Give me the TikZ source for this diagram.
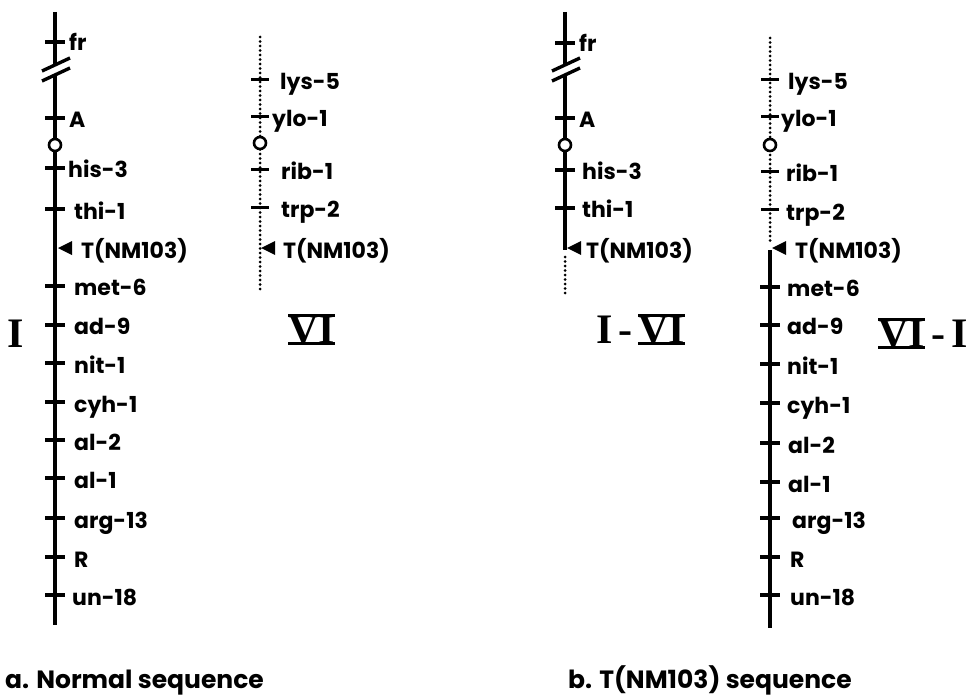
\documentclass[tikz,border=0pt]{standalone}
\usepackage{fontspec}
\setmainfont{Poppins}
\newfontfamily\romfont{Liberation Serif}
\begin{document}
\begin{tikzpicture}[x=1pt,y=-1pt,
  chrom/.style={line width=4.6pt},
  dotmark/.style={fill=black},
  tickmark/.style={line width=3.4pt},
  dtickmark/.style={line width=3pt},
  lab/.style={anchor=base west,inner sep=0pt,font=\bfseries\fontsize{22}{22}\selectfont},
  captext/.style={anchor=base west,inner sep=0pt,font=\bfseries\fontsize{25}{25}\selectfont},
  rom/.style={inner sep=0pt,anchor=base west,font=\romfont\bfseries\fontsize{42}{42}\selectfont},
  bar/.style={line width=3.2pt},
  cent/.style={draw,fill=white,line width=2.6pt,circle,inner sep=0pt,minimum size=12pt},
  slash/.style={line width=3.4pt}]
\useasboundingbox (0,0) rectangle (974,695);

% ================= panel a, chromosome I =================
\draw[chrom] (55,12) -- (55,64);
\draw[chrom] (55,76) -- (55,625);
\draw[slash] (42,71) -- (70,58);
\draw[slash] (42,81) -- (70,68);
\foreach \yy in {42,118,168,209,286,325,363,402,440,478,518,557,595}
  \draw[tickmark] (45,\yy) -- (65,\yy);
\node[cent] (ca) at (55,145) {};
\fill (58,248) -- (72,241) -- (72,255) -- cycle;
\node[lab] (a1) at (69,51) {fr};
\node[lab] (a2) at (69,128) {A};
\node[lab] (a3) at (68,178) {his-3};
\node[lab] (a4) at (74,219) {thi-1};
\node[lab] (a5) at (81,258) {T(NM103)};
\node[lab] (a6) at (74,295) {met-6};
\node[lab] (a7) at (74,334) {ad-9};
\node[lab] (a8) at (74,373) {nit-1};
\node[lab] (a9) at (74,412) {cyh-1};
\node[lab] (a10) at (74,450) {al-2};
\node[lab] (a11) at (74,488) {al-1};
\node[lab] (a12) at (74,528) {arg-13};
\node[lab] (a13) at (74,567) {R};
\node[lab] (a14) at (72,605) {un-18};
\node[rom] (rI) at (7,347) {I};

% ================= panel a, chromosome VI =================
\foreach \yy in {37,41.5,...,293}
  \fill[dotmark] (260,\yy) circle (1.5pt);
\foreach \yy in {80,117,170,208}
  \draw[dtickmark] (251,\yy) -- (269,\yy);
\node[cent] (cb) at (260,143) {};
\fill (261,248) -- (275,241) -- (275,255) -- cycle;
\node[lab] (b1) at (280,90) {lys-5};
\node[lab] (b2) at (272,127) {ylo-1};
\node[lab] (b3) at (281,180) {rib-1};
\node[lab] (b4) at (281,218) {trp-2};
\node[lab] (b5) at (283,258) {T(NM103)};
\node[rom] (rVI) at (288,343) {VI};
\draw[bar] (rVI.north west) -- (rVI.north east);
\draw[bar] (rVI.south west) -- (rVI.south east);

\node[captext] (capa) at (5,688) {a. Normal sequence};

% ================= panel b, chromosome I-VI =================
\draw[chrom] (565,12) -- (565,64);
\draw[chrom] (565,76) -- (565,250);
\foreach \yy in {257,261.5,...,293}
  \fill[dotmark] (565,\yy) circle (1.5pt);
\draw[slash] (552,71) -- (580,58);
\draw[slash] (552,81) -- (580,68);
\foreach \yy in {43,118,170,208}
  \draw[tickmark] (555,\yy) -- (575,\yy);
\node[cent] (cc) at (565,145) {};
\fill (567,248) -- (581,241) -- (581,255) -- cycle;
\node[lab] (c1) at (579,52) {fr};
\node[lab] (c2) at (579,128) {A};
\node[lab] (c3) at (582,180) {his-3};
\node[lab] (c4) at (582,218) {thi-1};
\node[lab] (c5) at (586,258) {T(NM103)};
\node[rom] (rI2) at (596,343) {I};
\node[rom] (rd2) at (618,343) {-};
\node[rom] (rVI2) at (638,343) {VI};
\draw[bar] (rVI2.north west) -- (rVI2.north east);
\draw[bar] (rVI2.south west) -- (rVI2.south east);

% ================= panel b, chromosome VI-I =================
\foreach \yy in {38,42.5,...,244}
  \fill[dotmark] (770,\yy) circle (1.5pt);
\draw[chrom] (770,250) -- (770,628);
\foreach \yy in {80,117,172,210}
  \draw[dtickmark] (761,\yy) -- (779,\yy);
\foreach \yy in {287,325,364,403,443,482,518,557,595}
  \draw[tickmark] (760,\yy) -- (780,\yy);
\node[cent] (cd) at (770,145) {};
\fill (772,248) -- (786,241) -- (786,255) -- cycle;
\node[lab] (d1) at (788,90) {lys-5};
\node[lab] (d2) at (781,127) {ylo-1};
\node[lab] (d3) at (786,182) {rib-1};
\node[lab] (d4) at (786,220) {trp-2};
\node[lab] (d5) at (795,258) {T(NM103)};
\node[lab] (d6) at (787,296) {met-6};
\node[lab] (d7) at (787,334) {ad-9};
\node[lab] (d8) at (787,374) {nit-1};
\node[lab] (d9) at (787,413) {cyh-1};
\node[lab] (d10) at (788,453) {al-2};
\node[lab] (d11) at (788,492) {al-1};
\node[lab] (d12) at (792,528) {arg-13};
\node[lab] (d13) at (790,567) {R};
\node[lab] (d14) at (790,605) {un-18};
\node[rom] (rVI3) at (878,347) {VI};
\draw[bar] (rVI3.north west) -- (rVI3.north east);
\draw[bar] (rVI3.south west) -- (rVI3.south east);
\node[rom] (rd3) at (931,347) {-};
\node[rom] (rI3) at (951,347) {I};

\node[captext] (capb) at (568,688) {b. T(NM103) sequence};
\end{tikzpicture}
\end{document}
